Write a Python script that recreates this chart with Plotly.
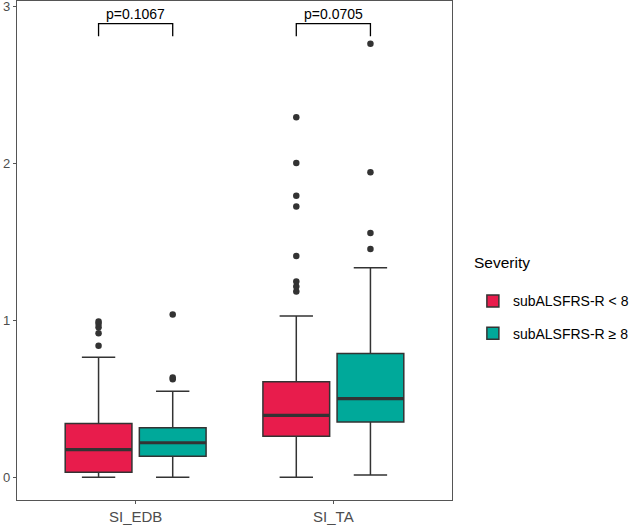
import plotly.graph_objects as go

# ---------------- data ----------------
CATEGORIES = ["SI_EDB", "SI_TA"]
SEVERITY = ["subALSFRS-R < 8", "subALSFRS-R \u2265 8"]
COLORS = ["#E81C4C", "#00A99A"]

# box statistics per severity level, one value per category
LOW_FENCE = {SEVERITY[0]: [0.0, 0.0], SEVERITY[1]: [0.0, 0.015]}
Q1 = {SEVERITY[0]: [0.032, 0.262], SEVERITY[1]: [0.134, 0.352]}
MEDIAN = {SEVERITY[0]: [0.176, 0.394], SEVERITY[1]: [0.22, 0.501]}
Q3 = {SEVERITY[0]: [0.342, 0.608], SEVERITY[1]: [0.316, 0.789]}
UP_FENCE = {SEVERITY[0]: [0.764, 1.028], SEVERITY[1]: [0.548, 1.335]}

OUTLIERS = {
    SEVERITY[0]: [
        [0.838, 0.917, 0.955, 0.978, 0.992],
        [1.183, 1.215, 1.247, 1.409, 1.724, 1.793, 2.002, 2.293],
    ],
    SEVERITY[1]: [
        [0.624, 0.636, 1.036],
        [1.454, 1.556, 1.942, 2.761],
    ],
}

P_LABELS = ["p=0.1067", "p=0.0705"]
BRACKET_Y = 2.889
BRACKET_TIP = 2.808
Y_TICKS = [0, 1, 2, 3]

# ---------------- layout constants ----------------
DODGE = 0.75 / 4          # half of a dodge slot
BOX_W = 0.75 / 2 * 0.9
INK = "#333333"

fig = go.Figure()
cat_pos = [i + 1 for i in range(len(CATEGORIES))]

for k, sev in enumerate(SEVERITY):
    offset = (-1 if k == 0 else 1) * DODGE
    xs = [p + offset for p in cat_pos]
    fig.add_trace(go.Box(
        name=sev, x=xs,
        q1=Q1[sev], median=MEDIAN[sev], q3=Q3[sev],
        lowerfence=LOW_FENCE[sev], upperfence=UP_FENCE[sev],
        width=BOX_W, whiskerwidth=0.5,
        fillcolor=COLORS[k], line=dict(color=INK, width=1.5),
        boxpoints=False, legendgroup=sev, showlegend=True,
        hoverinfo="skip",
    ))
    # thicker median line
    for x, m in zip(xs, MEDIAN[sev]):
        fig.add_shape(type="line", xref="x", yref="y",
                      x0=x - BOX_W / 2, x1=x + BOX_W / 2, y0=m, y1=m,
                      line=dict(color=INK, width=3.2), layer="above")
    ox, oy = [], []
    for x, vals in zip(xs, OUTLIERS[sev]):
        ox += [x] * len(vals)
        oy += vals
    fig.add_trace(go.Scatter(
        x=ox, y=oy, mode="markers",
        marker=dict(color=INK, size=6.5),
        showlegend=False, legendgroup=sev, hoverinfo="skip",
    ))

# significance brackets
for p, lab in zip(cat_pos, P_LABELS):
    x1, x2 = p - DODGE, p + DODGE
    fig.add_trace(go.Scatter(
        x=[x1, x1, x2, x2], y=[BRACKET_TIP, BRACKET_Y, BRACKET_Y, BRACKET_TIP],
        mode="lines", line=dict(color="black", width=1.3),
        showlegend=False, hoverinfo="skip",
    ))
    fig.add_annotation(x=p, y=BRACKET_Y, text=lab, showarrow=False,
                       yanchor="bottom", yshift=0,
                       font=dict(size=14, color="black"))

# legend title as a separate annotation
fig.add_annotation(xref="paper", yref="paper", x=1.046, y=0.475,
                   xanchor="left", yanchor="middle", showarrow=False,
                   text="Severity", font=dict(size=15.5, color="black"))

fig.update_layout(
    width=629, height=526,
    margin=dict(l=17, r=177, t=1, b=26, autoexpand=False),
    paper_bgcolor="white", plot_bgcolor="white",
    font=dict(family="Liberation Sans, Arial, sans-serif", size=14, color="black"),
    boxmode="overlay",
    showlegend=True,
    legend=dict(
        x=1.048, xanchor="left", y=0.366, yanchor="middle",
        font=dict(size=14), tracegroupgap=11,
        bgcolor="rgba(0,0,0,0)",
    ),
)
fig.update_xaxes(
    range=[0.4, 2.6], tickvals=cat_pos, ticktext=CATEGORIES,
    showgrid=False, zeroline=False,
    showline=True, mirror=True, linecolor="#555555", linewidth=1.3,
    ticks="outside", ticklen=3, tickcolor="#555555", tickwidth=1,
    tickfont=dict(size=15, color="#4D4D4D"),
)
fig.update_yaxes(
    range=[-0.1444, 3.033], tickvals=Y_TICKS,
    showgrid=False, zeroline=False,
    showline=True, mirror=True, linecolor="#555555", linewidth=1.3,
    ticks="outside", ticklen=3, tickcolor="#555555", tickwidth=1,
    tickfont=dict(size=13, color="#4D4D4D"),
    ticklabeloverflow="allow",
)

fig.write_html("out.html", config={"displayModeBar": False},
               post_script="document.body.style.margin='0';")
